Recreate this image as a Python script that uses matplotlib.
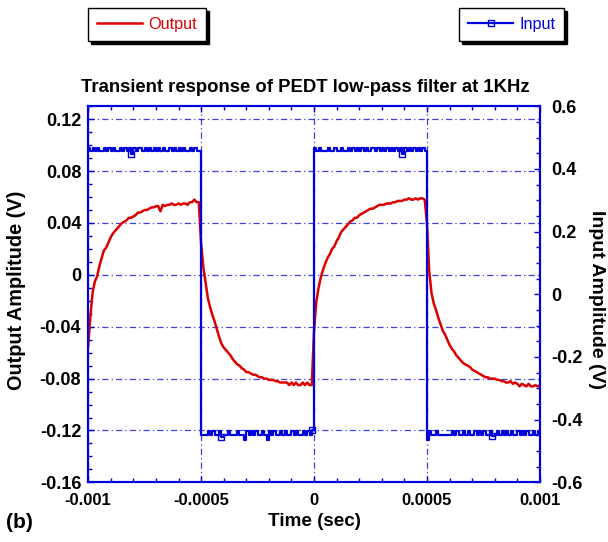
import numpy as np
import matplotlib
matplotlib.use('Agg')
import matplotlib.pyplot as plt
from matplotlib.lines import Line2D
from matplotlib.ticker import MultipleLocator, FuncFormatter

plt.rcParams['font.family'] = ['Liberation Sans', 'DejaVu Sans']
plt.rcParams['font.weight'] = 'bold'
plt.rcParams['axes.unicode_minus'] = False

# sample times, 10 us apart
t = np.linspace(-0.001, 0.001, 201)

# output (V), one half period per list
out_rise1 = [-0.055, -0.032, -0.013, -0.005, -0.001, 0.007, 0.013, 0.019, 0.021, 0.025,
             0.029, 0.032, 0.034, 0.036, 0.038, 0.040, 0.041, 0.042, 0.044, 0.044,
             0.045, 0.046, 0.048, 0.048, 0.049, 0.050, 0.050, 0.051, 0.052, 0.052,
             0.053, 0.053, 0.049, 0.054, 0.053, 0.054, 0.054, 0.055, 0.054, 0.054,
             0.055, 0.054, 0.055, 0.055, 0.054, 0.056, 0.056, 0.058, 0.056, 0.056]
out_fall1 = [0.024, 0.006, -0.006, -0.018, -0.025, -0.031, -0.036, -0.042, -0.048, -0.053,
             -0.056, -0.058, -0.060, -0.062, -0.065, -0.067, -0.069, -0.070, -0.072, -0.073,
             -0.075, -0.075, -0.076, -0.077, -0.077, -0.078, -0.079, -0.079, -0.080, -0.080,
             -0.081, -0.081, -0.081, -0.082, -0.082, -0.083, -0.083, -0.083, -0.083, -0.085,
             -0.083, -0.085, -0.083, -0.085, -0.085, -0.083, -0.085, -0.083, -0.085, -0.085]
out_rise2 = [-0.043, -0.021, -0.010, -0.002, 0.004, 0.009, 0.013, 0.016, 0.020, 0.022,
             0.026, 0.029, 0.033, 0.035, 0.037, 0.039, 0.041, 0.042, 0.044, 0.044,
             0.046, 0.047, 0.048, 0.049, 0.050, 0.051, 0.051, 0.052, 0.053, 0.054,
             0.054, 0.054, 0.055, 0.055, 0.055, 0.056, 0.056, 0.057, 0.057, 0.057,
             0.058, 0.058, 0.059, 0.058, 0.058, 0.059, 0.058, 0.059, 0.059, 0.058]
out_fall2 = [0.040, 0.003, -0.014, -0.022, -0.027, -0.033, -0.038, -0.043, -0.046, -0.050,
             -0.054, -0.057, -0.059, -0.062, -0.064, -0.066, -0.068, -0.069, -0.070, -0.071,
             -0.073, -0.074, -0.075, -0.076, -0.077, -0.078, -0.079, -0.079, -0.080, -0.080,
             -0.080, -0.081, -0.081, -0.082, -0.082, -0.083, -0.083, -0.082, -0.084, -0.083,
             -0.084, -0.086, -0.084, -0.085, -0.086, -0.084, -0.086, -0.086, -0.085, -0.086,
             -0.085]

# input square wave (V)
in_hi1 = [0.468, 0.458, 0.468, 0.458, 0.468, 0.458, 0.458, 0.468, 0.458, 0.468,
          0.458, 0.468, 0.458, 0.458, 0.468, 0.458, 0.468, 0.458, 0.468, 0.447,
          0.468, 0.458, 0.468, 0.468, 0.458, 0.468, 0.458, 0.468, 0.458, 0.468,
          0.458, 0.468, 0.458, 0.468, 0.458, 0.458, 0.468, 0.458, 0.468, 0.458,
          0.468, 0.458, 0.468, 0.458, 0.458, 0.468, 0.458, 0.468, 0.458, 0.458]
in_lo1 = [-0.449, -0.449, -0.449, -0.437, -0.449, -0.437, -0.449, -0.449, -0.437, -0.455,
          -0.449, -0.449, -0.437, -0.449, -0.449, -0.449, -0.437, -0.449, -0.449, -0.465,
          -0.437, -0.449, -0.437, -0.449, -0.437, -0.449, -0.449, -0.437, -0.449, -0.465,
          -0.437, -0.449, -0.437, -0.449, -0.449, -0.437, -0.449, -0.437, -0.449, -0.449,
          -0.437, -0.449, -0.437, -0.449, -0.449, -0.437, -0.449, -0.437, -0.449, -0.433]
in_hi2 = [0.468, 0.458, 0.468, 0.458, 0.458, 0.458, 0.468, 0.458, 0.458, 0.468,
          0.458, 0.458, 0.468, 0.458, 0.458, 0.468, 0.458, 0.468, 0.458, 0.468,
          0.458, 0.468, 0.458, 0.468, 0.458, 0.468, 0.468, 0.458, 0.468, 0.458,
          0.468, 0.458, 0.468, 0.458, 0.468, 0.458, 0.468, 0.458, 0.468, 0.447,
          0.468, 0.458, 0.468, 0.458, 0.468, 0.458, 0.468, 0.458, 0.468, 0.458]
in_lo2 = [-0.465, -0.437, -0.449, -0.449, -0.437, -0.449, -0.449, -0.449, -0.449, -0.449,
          -0.449, -0.437, -0.449, -0.437, -0.449, -0.449, -0.437, -0.449, -0.437, -0.449,
          -0.449, -0.437, -0.449, -0.437, -0.449, -0.437, -0.449, -0.449, -0.437, -0.452,
          -0.449, -0.437, -0.449, -0.437, -0.449, -0.437, -0.449, -0.437, -0.449, -0.449,
          -0.437, -0.449, -0.437, -0.449, -0.437, -0.449, -0.449, -0.437, -0.449, -0.437,
          -0.449]

output = np.concatenate([out_rise1, out_fall1, out_rise2, out_fall2])
inp = np.concatenate([in_hi1, in_lo1, in_hi2, in_lo2])

red = '#dd0000'
blue = '#0000dd'

fig = plt.figure(figsize=(6.08, 5.42), dpi=100)
ax = fig.add_axes([0.145, 0.110, 0.743, 0.694])
ax2 = ax.twinx()

ax.plot(t, output, color=red, lw=1.8)
ax2.plot(t, inp, color=blue, lw=1.6, drawstyle='steps-post',
         marker='s', mfc='none', mec=blue, ms=5, mew=1, markevery=(19, 40))

ax.set_xlim(-0.001, 0.001)
ax.set_ylim(-0.16, 0.13)
ax2.set_ylim(-0.6, 0.6)

ax.xaxis.set_major_locator(MultipleLocator(0.0005))
ax.xaxis.set_minor_locator(MultipleLocator(0.0001))
ax.yaxis.set_major_locator(MultipleLocator(0.04))
ax.yaxis.set_minor_locator(MultipleLocator(0.01))
ax2.yaxis.set_major_locator(MultipleLocator(0.2))
ax2.yaxis.set_minor_locator(MultipleLocator(0.05))
fmt = FuncFormatter(lambda v, p: '%g' % round(v, 6))
ax.xaxis.set_major_formatter(fmt)
ax.yaxis.set_major_formatter(fmt)
ax2.yaxis.set_major_formatter(fmt)

ax.grid(True, which='major', color=blue, ls=(0, (5, 2.5, 1, 2.5)), lw=0.9, alpha=0.75)

ax.tick_params(which='both', direction='in', colors=blue, labelcolor='black',
               top=True, right=False, width=1)
ax.tick_params(which='major', length=4.5)
ax.tick_params(which='minor', length=2.8)
ax.tick_params(axis='x', pad=8, labelsize=12)
ax.tick_params(axis='y', pad=5, labelsize=13)
ax2.tick_params(which='both', direction='in', colors=blue, labelcolor='black',
                labelsize=13, width=1, pad=8)
ax2.tick_params(which='major', length=4.5)
ax2.tick_params(which='minor', length=2.8)
for a in (ax, ax2):
    for s in a.spines.values():
        s.set_color(blue)
        s.set_linewidth(1.5)

fig.text(0.502, 1 - 88 / 542, 'Transient response of PEDT low-pass filter at 1KHz',
         ha='center', va='center', fontsize=13.3)
fig.text(17 / 608, 1 - 290 / 542, 'Output Amplitude (V)', rotation=90,
         ha='center', va='center', fontsize=14.3)
fig.text(596 / 608, 1 - 300 / 542, 'Input Amplitude (V)', rotation=270,
         ha='center', va='center', fontsize=14)
fig.text(314 / 608, 1 - 522 / 542, 'Time (sec)', ha='center', va='center', fontsize=13.6)
fig.text(6 / 608, 1 - 522 / 542, '(b)', ha='left', va='center', fontsize=15)

# two separate legend boxes with hard shadows
sh = {'ox': 2.5, 'oy': -2.5, 'facecolor': 'black', 'edgecolor': 'black', 'alpha': 1}
h_out = Line2D([], [], color=red, lw=1.8)
h_in = Line2D([], [], color=blue, lw=1.6, marker='s', mfc='none', mec=blue, ms=5)
common = dict(frameon=True, fancybox=False, edgecolor='black', framealpha=1,
              borderpad=0.55, handlelength=2.8, handletextpad=0.35, borderaxespad=0,
              shadow=sh, prop={'weight': 'normal', 'size': 11.7})
leg1 = fig.legend([h_out], ['Output'], loc='upper left',
                  bbox_to_anchor=(88 / 608, 1 - 8 / 542), labelcolor=red, **common)
leg2 = fig.legend([h_in], ['Input'], loc='upper right',
                  bbox_to_anchor=(564 / 608, 1 - 8 / 542), labelcolor=blue, **common)
for lg in (leg1, leg2):
    lg.get_frame().set_linewidth(1)

fig.savefig('out.png', dpi=100)
